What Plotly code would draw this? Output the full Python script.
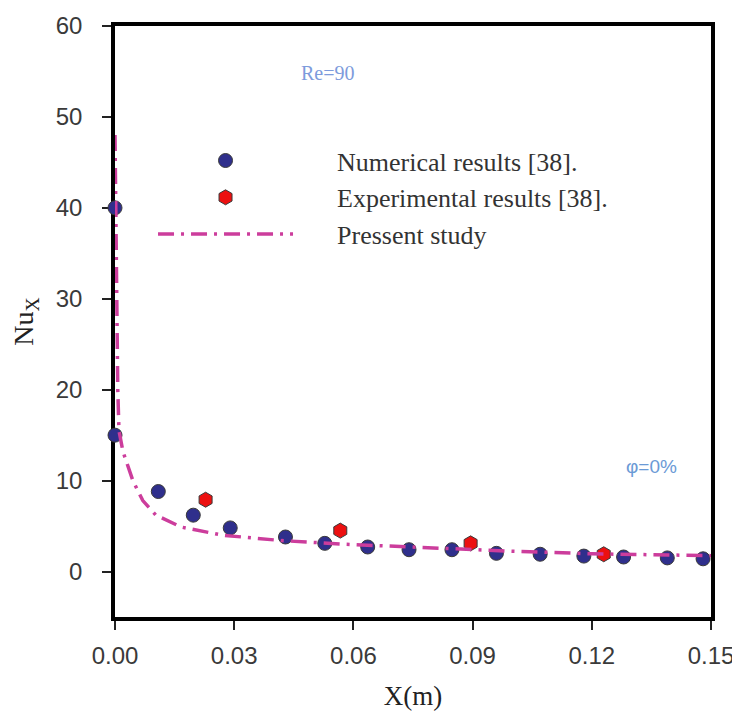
import plotly.graph_objects as go

# Numerical results [38]
num_x = [0.0, 0.0, 0.0109, 0.0197, 0.029, 0.0429, 0.0528, 0.0636, 0.074, 0.0848,
         0.096, 0.107, 0.118, 0.128, 0.139, 0.148]
num_y = [40.0, 15.0, 8.8, 6.2, 4.8, 3.8, 3.1, 2.7, 2.4, 2.4,
         2.0, 1.9, 1.7, 1.6, 1.5, 1.4]

# Experimental results [38]
exp_x = [0.0228, 0.0567, 0.0895, 0.123]
exp_y = [7.9, 4.5, 3.1, 1.9]

# Present study
line_x = [0.0, 0.0002, 0.0004, 0.0007, 0.001, 0.002, 0.0045, 0.007, 0.0103,
          0.0166, 0.027, 0.042, 0.058, 0.079, 0.099, 0.12, 0.15]
line_y = [48.0, 38.0, 28.0, 20.0, 15.5, 13.2, 10.0, 7.8, 6.2,
          4.9, 4.0, 3.4, 3.0, 2.6, 2.25, 1.95, 1.75]

x_ticks = [0.0, 0.03, 0.06, 0.09, 0.12, 0.15]
y_ticks = [0, 10, 20, 30, 40, 50, 60]

PAD = "\u00a0" * 6

fig = go.Figure()

fig.add_trace(go.Scatter(
    x=num_x, y=num_y, mode="markers", name=PAD + "Numerical results [38].",
    legendgroup="a", cliponaxis=False,
    marker=dict(symbol="circle", size=14, color="#2f2f8c",
                line=dict(color="#3a3a3a", width=1)),
))
fig.add_trace(go.Scatter(
    x=exp_x, y=exp_y, mode="markers", name=PAD + "Experimental results [38].",
    legendgroup="b", cliponaxis=False,
    marker=dict(symbol="hexagon", size=15, color="#ec1010",
                line=dict(color="#3a3a3a", width=1)),
))
fig.add_trace(go.Scatter(
    x=line_x, y=line_y, mode="lines", name=PAD + "Pressent study",
    legendgroup="c", cliponaxis=False,
    line=dict(color="#cc3d9c", width=3.5, dash="16px,7px,3px,7px"),
))

fig.add_annotation(x=0.0536, y=54.8, xref="x", yref="y", text="Re=90",
                   showarrow=False,
                   font=dict(family="Liberation Serif", size=20, color="#7d9bdc"))
fig.add_annotation(x=0.1349, y=11.6, xref="x", yref="y", text="φ=0%",
                   showarrow=False,
                   font=dict(family="Liberation Sans", size=19, color="#6b9ad6"))

axis_common = dict(
    showline=True, linecolor="black", linewidth=3.5, mirror=True,
    ticks="outside", ticklen=9, tickwidth=1.5, tickcolor="#222",
    showgrid=False, zeroline=False, layer="below traces",
    tickfont=dict(family="Liberation Sans", size=24, color="#3a3a3a"),
)

fig.update_xaxes(
    range=[0, 0.15], tickvals=x_ticks, tickformat=".2f",
    ticklabelstandoff=5,
    title=dict(text="X(m)", standoff=20,
               font=dict(family="Liberation Serif", size=27, color="#222")),
    **axis_common,
)
fig.update_yaxes(
    range=[-5, 60], tickvals=y_ticks,
    ticklabelstandoff=15,
    title=dict(text="Nu<sub>X</sub>", standoff=21,
               font=dict(family="Liberation Serif", size=28, color="#222")),
    **axis_common,
)

fig.update_layout(
    width=740, height=714,
    margin=dict(l=107, r=37, t=18, b=105, autoexpand=False),
    paper_bgcolor="white", plot_bgcolor="white",
    showlegend=True,
    legend=dict(
        x=0.0638, y=0.812, xanchor="left", yanchor="top",
        bgcolor="rgba(0,0,0,0)", itemwidth=135,
        traceorder="grouped", tracegroupgap=0,
        font=dict(family="Liberation Serif", size=26, color="#333"),
    ),
)

fig.write_html("out.html")
